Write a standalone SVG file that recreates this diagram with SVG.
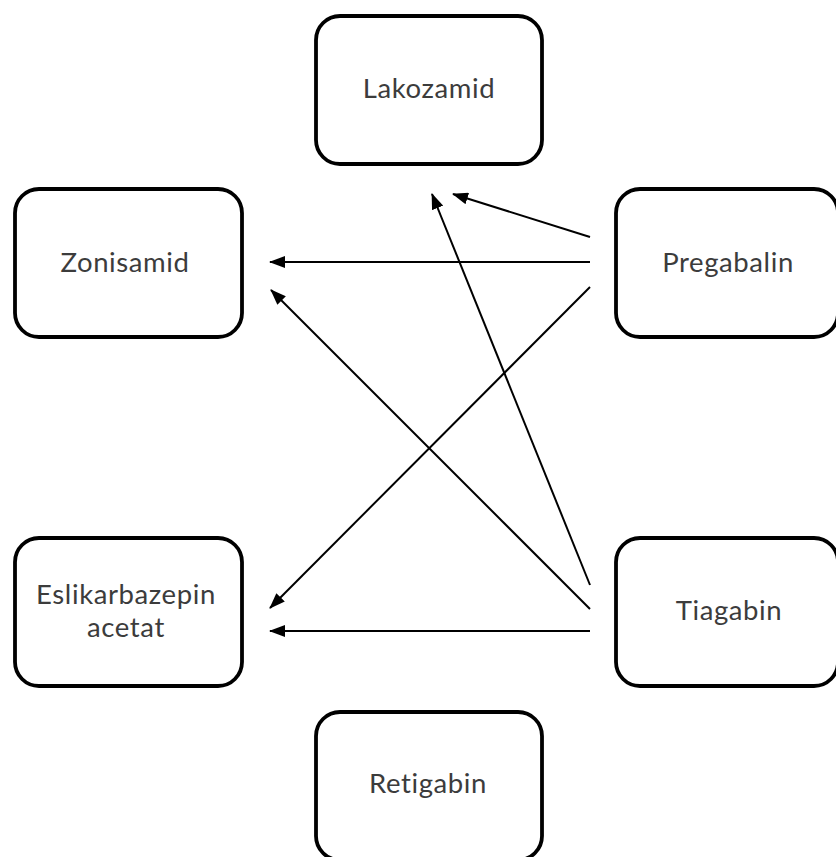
<svg xmlns="http://www.w3.org/2000/svg" width="836" height="857" viewBox="0 0 836 857">
<style>
.box{fill:#fff;stroke:#000;stroke-width:3.8}
.lbl{font-family:Lato,"Liberation Sans",sans-serif;font-size:27.5px;letter-spacing:0.6px;fill:#3c3c3c;text-anchor:middle}
.edge{stroke:#000;stroke-width:2;fill:none;marker-end:url(#ah)}
</style>
<defs>
<marker id="ah" markerUnits="userSpaceOnUse" markerWidth="16" markerHeight="12" refX="15" refY="6" orient="auto">
<path d="M0,0 L16,6 L0,12 z" fill="#000"/>
</marker>
</defs>
<rect width="836" height="857" fill="#fff"/>
<g id="lakozamid"><rect class="box" x="316" y="16" width="226" height="148" rx="24"/><text class="lbl" x="429" y="98">Lakozamid</text></g>
<g id="zonisamid"><rect class="box" x="15" y="189" width="227" height="148" rx="24"/><text class="lbl" x="125" y="272">Zonisamid</text></g>
<g id="pregabalin"><rect class="box" x="616" y="189" width="222" height="148" rx="24"/><text class="lbl" x="728" y="272">Pregabalin</text></g>
<g id="eslikarbazepin"><rect class="box" x="15" y="538" width="227" height="148" rx="24"/><text class="lbl" x="126" y="604">Eslikarbazepin</text><text class="lbl" x="126" y="637">acetat</text></g>
<g id="tiagabin"><rect class="box" x="616" y="538" width="222" height="148" rx="24"/><text class="lbl" x="729" y="620">Tiagabin</text></g>
<g id="retigabin"><rect class="box" x="316" y="712" width="226" height="148" rx="24"/><text class="lbl" x="428" y="793">Retigabin</text></g>
<g id="connectors">
<line class="edge" x1="590" y1="237" x2="453" y2="194"/>
<line class="edge" x1="590" y1="585" x2="432" y2="194"/>
<line class="edge" x1="590" y1="262" x2="270" y2="262"/>
<line class="edge" x1="590" y1="609" x2="271" y2="290"/>
<line class="edge" x1="590" y1="287" x2="270" y2="608"/>
<line class="edge" x1="590" y1="631" x2="270" y2="631"/>
</g>
</svg>
